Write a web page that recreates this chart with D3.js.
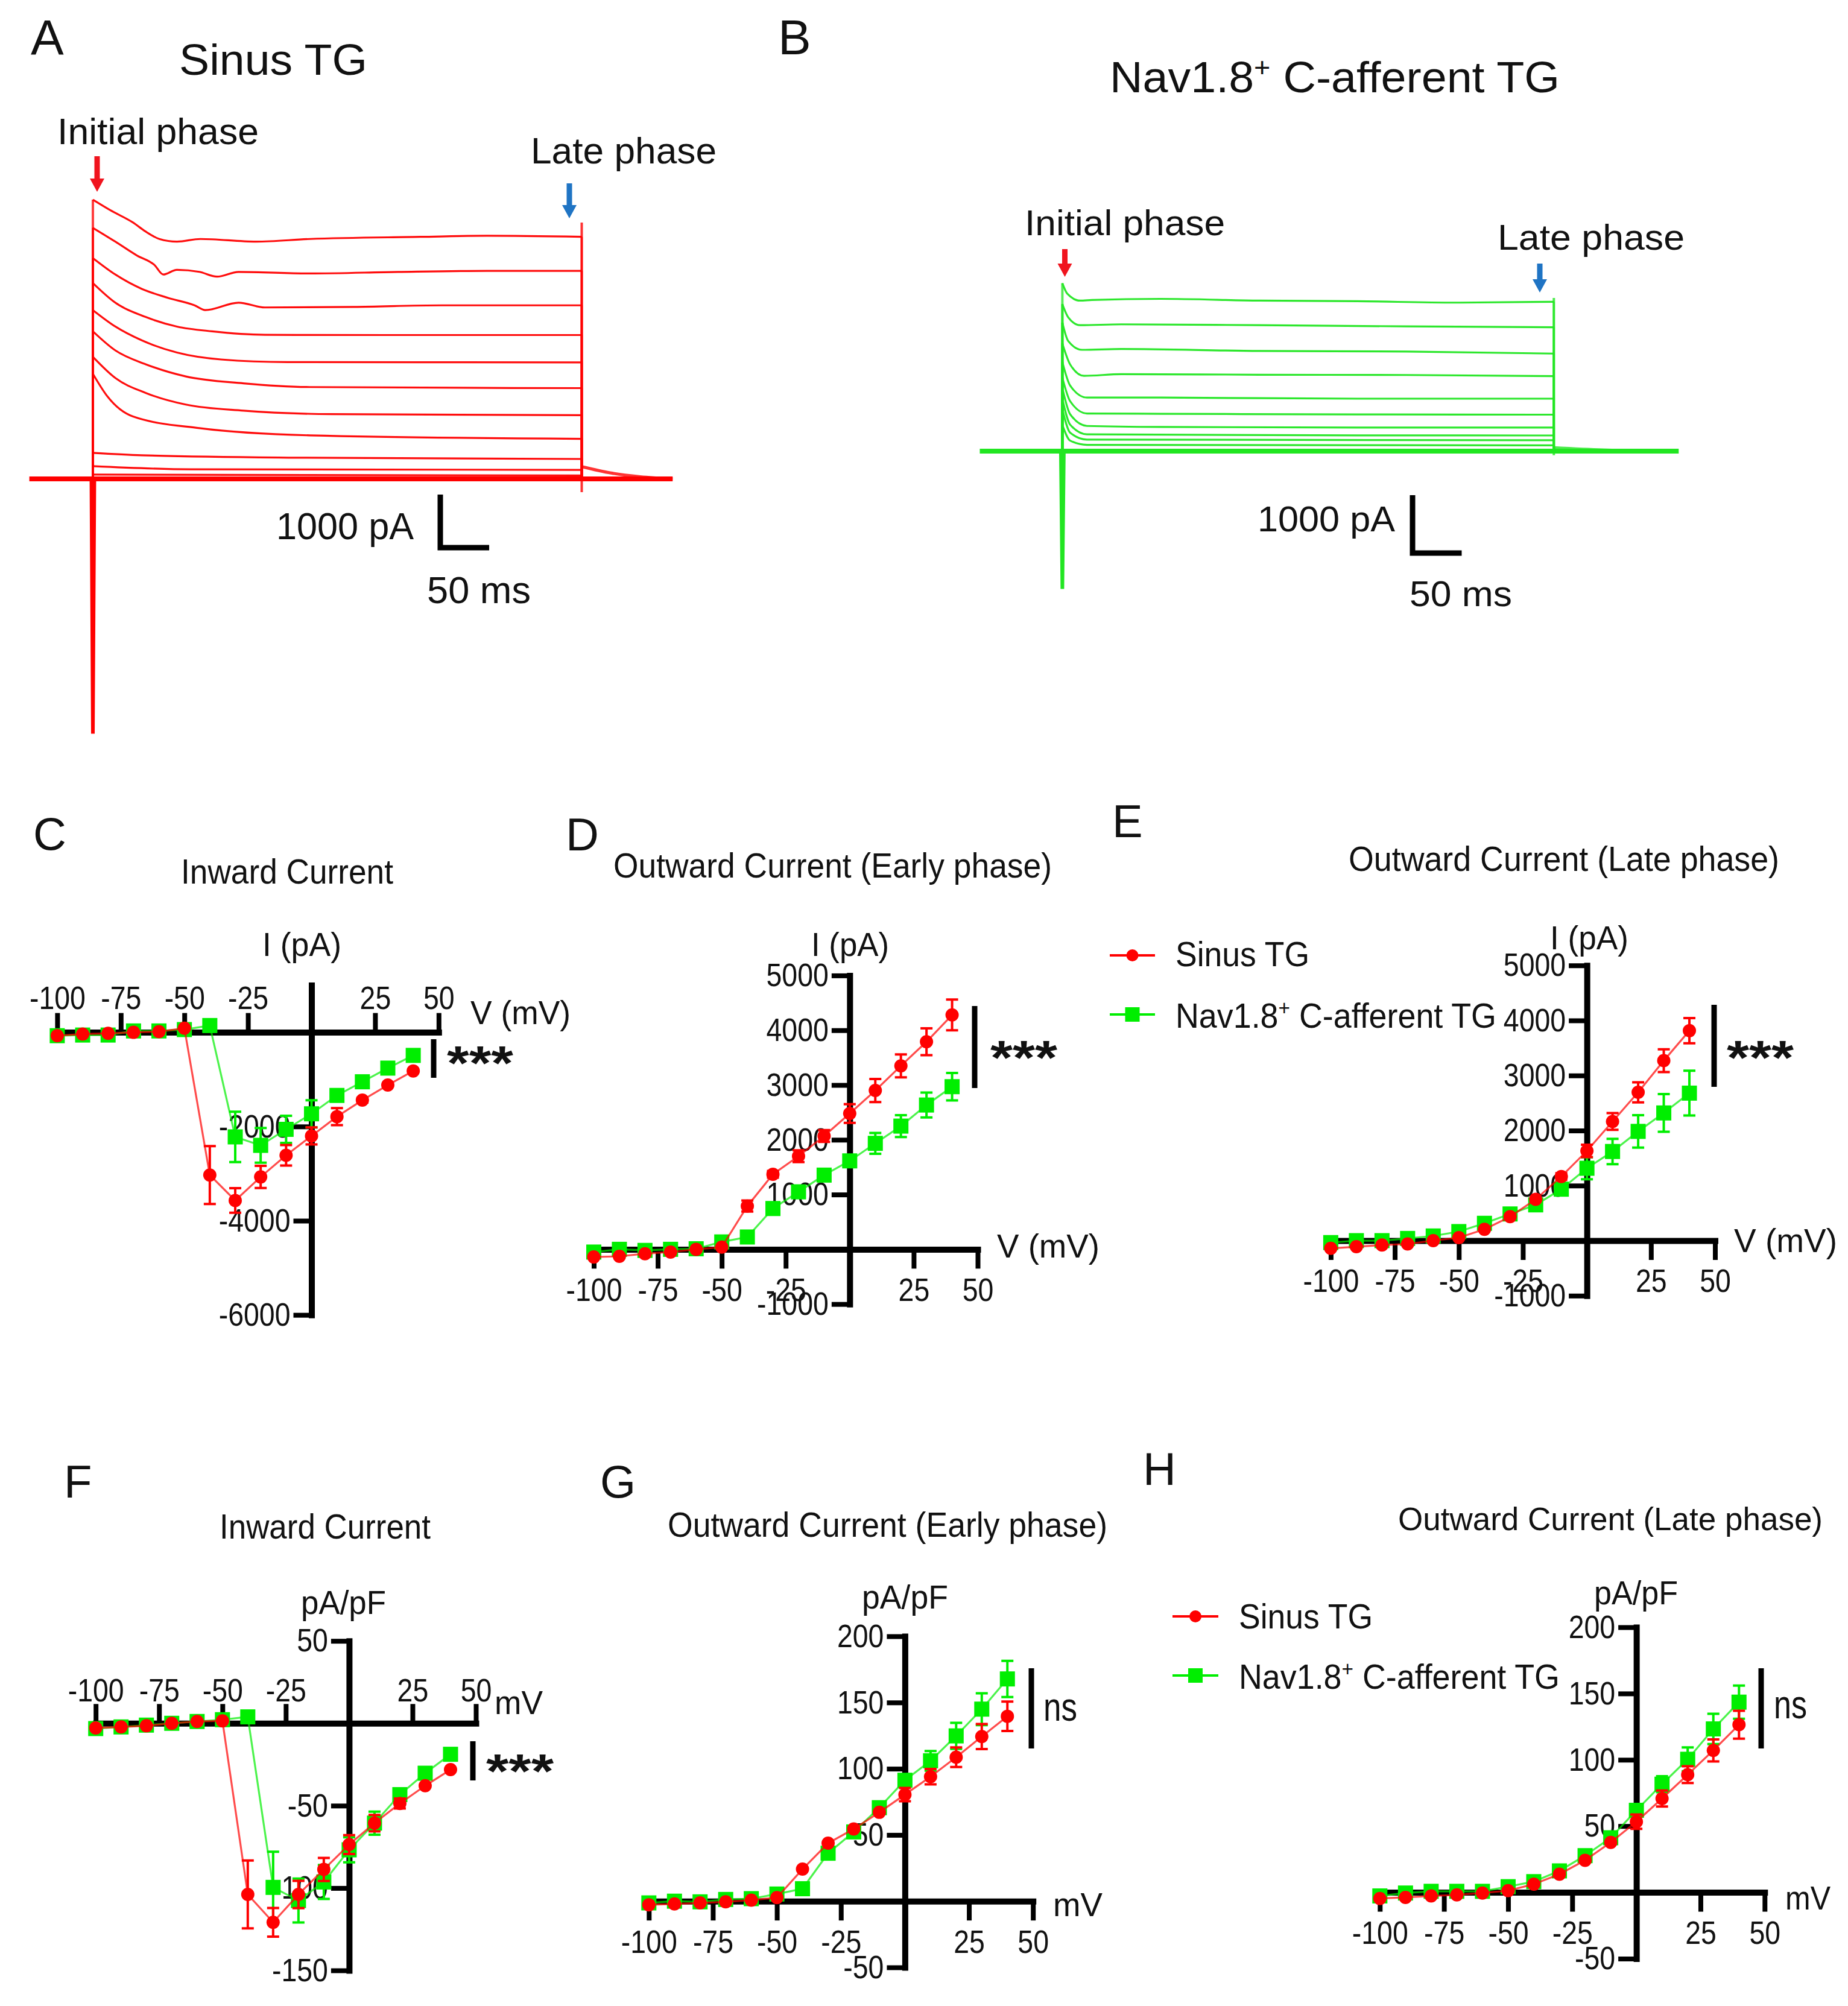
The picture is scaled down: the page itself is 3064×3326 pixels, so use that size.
<!DOCTYPE html>
<html><head><meta charset="utf-8">
<script src="https://cdn.jsdelivr.net/npm/d3@7"></script>
<style>
html,body{margin:0;padding:0;background:#fff;}
svg text{font-family:"Liberation Sans",Arial,sans-serif;fill:#111;}
</style></head><body>
<svg id="fig" width="3064" height="3326" xmlns="http://www.w3.org/2000/svg"></svg>
<script>
// ================= DATA =================
// Panel A/B raw current traces: [time ms, current pA]
const sinusTraces = [
 [[0,5260],[18,5060],[41,4830],[54,4660],[68,4520],[86,4470],[110,4520],[167,4470],[222,4520],[335,4560],[403,4580],[500,4560]],
 [[0,4730],[23,4470],[45,4210],[63,4030],[72,3850],[86,3940],[109,3900],[127,3810],[149,3900],[222,3870],[312,3900],[403,3920],[500,3920]],
 [[0,4160],[23,3850],[50,3580],[77,3410],[104,3270],[115,3180],[149,3320],[176,3230],[267,3240],[357,3270],[500,3270]],
 [[0,3690],[23,3320],[54,3050],[86,2870],[122,2780],[176,2715],[300,2710],[500,2710]],
 [[0,3180],[23,2870],[50,2610],[86,2380],[131,2250],[199,2200],[500,2195]],
 [[0,2780],[23,2420],[54,2160],[95,1930],[154,1800],[222,1730],[500,1710]],
 [[0,2300],[23,1900],[54,1620],[95,1400],[154,1285],[244,1220],[500,1200]],
 [[0,1980],[15,1550],[41,1175],[109,955],[222,820],[500,755]],
 [[0,490],[50,445],[200,400],[500,375]],
 [[0,240],[100,180],[500,170]],
 [[0,80],[500,63]],
 [[0,-20],[500,-20]]
];
const sinusSpike = [[-1.5,0],[0,-4800],[1.5,0]];
const sinusEndTransient = [[500,4830],[500,-250]];
const sinusTail = [[500,230],[530,110],[560,40],[593,0]];

const navTraces = [
 [[0,2900],[5,2720],[18,2600],[30,2610],[100,2630],[200,2600],[300,2590],[400,2565],[500,2580]],
 [[0,2540],[6,2310],[18,2175],[60,2190],[200,2175],[350,2155],[500,2140]],
 [[0,2220],[6,1900],[20,1750],[60,1765],[200,1730],[350,1720],[500,1685]],
 [[0,1860],[8,1495],[22,1300],[60,1330],[200,1320],[350,1315],[500,1295]],
 [[0,1540],[8,1130],[25,925],[100,925],[300,906],[500,906]],
 [[0,1270],[8,860],[25,650],[100,645],[300,635],[500,630]],
 [[0,1090],[8,635],[25,435],[100,417],[300,408],[500,407]],
 [[0,905],[8,455],[25,290],[300,272],[500,271]],
 [[0,725],[8,317],[25,200],[500,189]],
 [[0,453],[8,181],[25,109],[500,101]],
 [[0,0],[500,0]]
];
const navSpike = [[-1.5,0],[0,-2380],[1.5,0]];
const navEndTransient = [[500,2646],[500,-70]];
const navTail = [[500,60],[550,20],[600,0]];

// I-V data
const voltages = [-100,-90,-80,-70,-60,-50,-40,-30,-20,-10,0,10,20,30,40];
const xTickValues = [-100,-75,-50,-25,25,50];

const sinusC    = [-72,-36,-22,0,14,87,-3030,-3570,-3070,-2610,-2200,-1790,-1440,-1120,-820];
const sinusCerr = [0,0,0,0,0,0,614,260,235,217,180,180,50,0,0];
const navC      = [-72,-58,-58,29,29,58,144,-2220,-2400,-2060,-1730,-1340,-1050,-760,-490];
const navCerr   = [0,0,0,0,0,0,0,534,368,289,289,120,0,0,0];

const sinusD    = [-140,-128,-80,-50,0,40,790,1370,1700,2070,2480,2900,3350,3790,4280];
const sinusDerr = [0,0,0,0,0,0,100,60,107,107,170,210,210,245,280];
const navD      = [-50,0,-20,0,10,135,225,745,1050,1355,1615,1935,2250,2635,2970];
const navDerr   = [0,0,0,0,0,0,0,0,60,60,60,190,200,226,250];

const sinusE    = [-140,-110,-80,-60,0,55,205,435,750,1165,1630,2165,2695,3270,3815];
const sinusEerr = [0,0,0,0,0,0,0,0,0,60,112,152,182,206,228];
const navE      = [-35,0,0,40,85,165,315,485,650,935,1315,1620,1985,2320,2680];
const navEerr   = [0,0,0,0,0,0,0,0,0,0,200,230,294,343,407];

const sinusF    = [-2.8,-2.2,-1.5,0,1.1,1.5,-103.9,-120.8,-103.9,-88.7,-73.6,-60.6,-48.7,-37.9,-28.1];
const sinusFerr = [0,0,0,0,0,0,20.6,8.7,8.3,7,5.7,5,3,0,0];
const navF      = [-3.2,-2.2,-1.1,0,1.1,2.2,3.9,-99.6,-107.6,-96.3,-76.8,-60.6,-43.3,-30.3,-18.8];
const navFerr   = [0,0,0,0,0,0,0,21.6,13.3,10.3,7.6,7,2,0,0];

const sinusG    = [-2.7,-2.1,-1.3,-0.5,0.8,2.7,24.2,43.8,54.5,67.1,80.5,94,108.7,124.3,139.6];
const sinusGerr = [0,0,0,0,0,0,0,0,0,0,5,5.8,7.4,9.4,11.1];
const navG      = [-1.3,0,-0.5,1.3,1.9,5.4,9.4,36.2,52.3,70.6,91.3,106,124.8,145,167.8];
const navGerr   = [0,0,0,0,0,0,0,0,0,0,0,7.4,9.8,12,13.7];

const sinusH    = [-4.6,-3.8,-2.7,-1.9,-0.5,1.3,6.2,13.7,24.2,37.7,53.3,70.8,88.8,107.1,126.5];
const sinusHerr = [0,0,0,0,0,0,0,0,0,0,5.4,6,6.3,8.3,10.5];
const navH      = [-2.7,-0.5,0.8,0.8,0.8,4.3,8.1,16.2,27.7,41.2,61.9,81.6,100.4,123.3,143.5];
const navHerr   = [0,0,0,0,0,0,0,0,0,0,0,6,9,11.4,12.5];

const seriesNames = ["Sinus TG", "Nav1.8+ C-afferent TG"];

// ================= DRAWING =================
const RED = "#ff0000", GREEN = "#00ee00", TRACE_GREEN = "#22e622", BLUE = "#1f74c4";
const svg = d3.select("#fig");
svg.append("rect").attr("width",3064).attr("height",3326).attr("fill","#fff");

const navParts = [{t:"Nav1.8"},{t:"+",sup:true},{t:" C-afferent TG"}];

function addText(sel, parts, x, y, size, width, anchor, weight) {
  const t = sel.append("text").attr("x",x).attr("y",y).attr("font-size",size)
    .attr("text-anchor",anchor||"start");
  if (weight) t.attr("font-weight",weight);
  if (typeof parts === "string") t.text(parts);
  else {
    let prevSup = false;
    parts.forEach(p => {
      const ts = t.append("tspan").text(p.t);
      if (p.sup) { ts.attr("font-size", size*0.62).attr("dy", -size*0.36); prevSup = true; }
      else if (prevSup) { ts.attr("dy", size*0.36); prevSup = false; }
    });
  }
  if (width) t.attr("textLength",width).attr("lengthAdjust","spacingAndGlyphs");
  return t;
}

function arrow(x, yTop, yTip, color) {
  const sw = 4.5, hw = 12, hl = 22;
  svg.append("path").attr("fill",color)
    .attr("d",`M${x-sw},${yTop}H${x+sw}V${yTip-hl}H${x+hw}L${x},${yTip}L${x-hw},${yTip-hl}H${x-sw}Z`);
}

function tracePanel(cfg) {
  const g = svg.append("g");
  const x = d3.scaleLinear().domain([0,500]).range([cfg.xOn, cfg.xOff]);
  const y = d3.scaleLinear().domain([0,1000]).range([cfg.yBase, cfg.yBase - cfg.px1000]);
  const body = d3.line().x(d=>x(d[0])).y(d=>y(d[1])).curve(d3.curveMonotoneX);
  const lin = d3.line().x(d=>x(d[0])).y(d=>y(d[1]));
  const st = (p,w,op) => p.attr("fill","none").attr("stroke",cfg.color).attr("stroke-width",w).attr("stroke-opacity",op||1);
  st(g.append("path").attr("d", lin([[cfg.tStart,0],[cfg.tEnd,0]])), 8);
  st(g.append("path").attr("d", body(cfg.tail)), 5, 0.8);
  cfg.traces.forEach(tr => {
    st(g.append("path").attr("d", body(tr)), 3.2, 0.95);
    st(g.append("path").attr("d", lin([[0,0],tr[0]])), 4, 0.75);
    st(g.append("path").attr("d", lin([tr[tr.length-1],[500,0]])), 3.5, 0.7);
  });
  st(g.append("path").attr("d", lin(cfg.spike)), 6);
  st(g.append("path").attr("d", lin(cfg.endTransient)), 4, 0.8);
  // scale bar
  const vLen = y(0)-y(1000), hLen = x(50)-x(0);
  g.append("path").attr("d",`M${cfg.bar[0]},${cfg.bar[1]-vLen}V${cfg.bar[1]}H${cfg.bar[0]+hLen}`)
    .attr("fill","none").attr("stroke","#000").attr("stroke-width",9).attr("stroke-linejoin","miter");
}

// ---- Panel A ----
addText(svg,"A",51,90,82);
addText(svg,"Sinus TG",297,124,72,312);
addText(svg,"Initial phase",95,239,62,334);
addText(svg,"Late phase",880,271,62,308);
addText(svg,"1000 pA",458,894,63,228);
addText(svg,"50 ms",708,1000,63,172);
arrow(161,259,318,"#f0141e");
arrow(944,304,362,BLUE);
tracePanel({xOn:154, xOff:964.5, yBase:794, px1000:88, tStart:-65, tEnd:593, color:RED,
  traces:sinusTraces, spike:sinusSpike, endTransient:sinusEndTransient, tail:sinusTail, bar:[730,908]});

// ---- Panel B ----
addText(svg,"B",1290,90,82);
addText(svg,navParts,1840,153,72,746);
addText(svg,"Initial phase",1699,390,60,332);
addText(svg,"Late phase",2483,414,60,310);
addText(svg,"1000 pA",2085,881,60,228);
addText(svg,"50 ms",2337,1005,60,170);
arrow(1765.5,413,459,"#f0141e");
arrow(2553,437,485,BLUE);
tracePanel({xOn:1761.4, xOff:2576.3, yBase:748, px1000:96, tStart:-84, tEnd:627, color:TRACE_GREEN,
  traces:navTraces, spike:navSpike, endTransient:navEndTransient, tail:navTail, bar:[2342,917]});

// ---- I-V panels ----
function ivPanel(c) {
  const g = svg.append("g");
  const x = d3.scaleLinear().domain([-100,50]).range(c.xr);
  const y = d3.scaleLinear().domain(c.yd).range(c.yr);
  const tick = 32;
  const xGen = (c.xTop ? d3.axisTop(x) : d3.axisBottom(x)).tickValues(xTickValues)
     .tickFormat(d=>String(d)).tickSize(tick).tickSizeOuter(0).tickPadding(c.xTop ? c.xPad : 15);
  const yGen = d3.axisLeft(y).tickValues(c.yTicks).tickFormat(d=>String(d))
     .tickSize(30).tickSizeOuter(0).tickPadding(5);
  const xa = g.append("g").attr("transform",`translate(0,${y(0)})`).call(xGen);
  const ya = g.append("g").attr("transform",`translate(${x(0)},0)`).call(yGen);
  [xa,ya].forEach(a => {
    a.attr("font-size",54).attr("font-family",'"Liberation Sans",Arial,sans-serif');
    a.select(".domain").attr("stroke","#000").attr("stroke-width",10).attr("stroke-linecap","square");
    a.selectAll(".tick line").attr("stroke","#000").attr("stroke-width",8);
    a.selectAll(".tick text").attr("fill","#111").each(function(){
      const w = this.getComputedTextLength();
      d3.select(this).attr("textLength", w*0.86).attr("lengthAdjust","spacingAndGlyphs");
    });
  });
  // series: green first, red on top
  const series = [
    {vals:c.nav, err:c.navErr, color:GREEN, shape:"square"},
    {vals:c.sin, err:c.sinErr, color:RED, shape:"circle"}
  ];
  series.forEach(s => {
    const pts = voltages.map((v,i)=>({v, m:s.vals[i], e:s.err[i]}));
    g.append("path").attr("d", d3.line().x(d=>x(d.v)).y(d=>y(d.m))(pts))
      .attr("fill","none").attr("stroke",s.color).attr("stroke-width",3.2).attr("stroke-opacity",0.7);
    pts.filter(d=>d.e>0).forEach(d => {
      const px = x(d.v), y1 = y(d.m+d.e), y2 = y(d.m-d.e);
      g.append("path").attr("d",`M${px},${y1}V${y2}M${px-10},${y1}H${px+10}M${px-10},${y2}H${px+10}`)
        .attr("fill","none").attr("stroke",s.color).attr("stroke-width",4);
    });
    if (s.shape==="circle") {
      g.selectAll(null).data(pts).join("circle").attr("cx",d=>x(d.v)).attr("cy",d=>y(d.m))
        .attr("r",11).attr("fill",s.color);
    } else {
      g.selectAll(null).data(pts).join("rect").attr("x",d=>x(d.v)-12.5).attr("y",d=>y(d.m)-12.5)
        .attr("width",25).attr("height",25).attr("fill",s.color);
    }
  });
  // labels
  addText(svg,c.letter[0],c.letter[1],c.letter[2],76);
  addText(svg,c.title[0],c.title[1],c.title[2],c.title[4]||57,c.title[3]);
  addText(svg,c.yLab[0],c.yLab[1],c.yLab[2],56,c.yLab[3]);
  addText(svg,c.xLab[0],c.xLab[1],c.xLab[2],56,c.xLab[3]);
  // significance
  svg.append("line").attr("x1",c.sig.x).attr("x2",c.sig.x).attr("y1",c.sig.y1).attr("y2",c.sig.y2)
    .attr("stroke","#000").attr("stroke-width",9);
  if (c.sig.text==="***") addText(svg,"***",c.sig.tx,c.sig.ty+46,80,c.sig.tw,"start","bold");
  else addText(svg,c.sig.text,c.sig.tx,c.sig.ty,66,c.sig.tw);
  // legend
  if (c.legend) {
    const L = c.legend;
    [[RED,"circle",L.y1,"Sinus TG",L.ty1,222],[GREEN,"square",L.y2,navParts,L.ty2,532]].forEach(r => {
      svg.append("line").attr("x1",L.x1).attr("x2",L.x2).attr("y1",r[2]).attr("y2",r[2])
        .attr("stroke",r[0]).attr("stroke-width",4);
      const cx = (L.x1+L.x2)/2;
      if (r[1]==="circle") svg.append("circle").attr("cx",cx).attr("cy",r[2]).attr("r",10).attr("fill",r[0]);
      else svg.append("rect").attr("x",cx-12).attr("y",r[2]-12).attr("width",24).attr("height",24).attr("fill",r[0]);
      addText(svg,r[3],L.tx,r[4],58,r[5]);
    });
  }
}

ivPanel({xr:[94.9,727.3], yd:[-6000,1000], yr:[2180.2,1633.5], yTicks:[-6000,-4000,-2000], xTop:true, xPad:7,
  sin:sinusC, sinErr:sinusCerr, nav:navC, navErr:navCerr,
  letter:["C",55,1409], title:["Inward Current",300,1465,352], yLab:["I (pA)",435,1585,131], xLab:["V (mV)",780,1698,166],
  sig:{x:719,y1:1723,y2:1787,text:"***",tx:741,ty:1744,tw:110}});

ivPanel({xr:[984.5,1621], yd:[-1000,5000], yr:[2162.2,1617.4], yTicks:[-1000,1000,2000,3000,4000,5000], xTop:false,
  sin:sinusD, sinErr:sinusDerr, nav:navD, navErr:navDerr,
  letter:["D",938,1410], title:["Outward Current (Early phase)",1017,1455,727], yLab:["I (pA)",1345,1585,129], xLab:["V (mV)",1653,2085,170],
  sig:{x:1616,y1:1668,y2:1804,text:"***",tx:1642,ty:1735,tw:111}});

ivPanel({xr:[2206.4,2843.5], yd:[-1000,5000], yr:[2148.3,1600.7], yTicks:[-1000,1000,2000,3000,4000,5000], xTop:false,
  sin:sinusE, sinErr:sinusEerr, nav:navE, navErr:navEerr,
  letter:["E",1844,1388], title:["Outward Current (Late phase)",2236,1444,714], yLab:["I (pA)",2570,1574,130], xLab:["V (mV)",2875,2076,171],
  sig:{x:2842,y1:1666,y2:1802,text:"***",tx:2863,ty:1735,tw:111},
  legend:{x1:1840,x2:1915,y1:1584,y2:1682,tx:1949,ty1:1602,ty2:1704}});

ivPanel({xr:[158.7,789], yd:[-150,50], yr:[3267,2720.7], yTicks:[-150,-100,-50,50], xTop:true, xPad:4,
  sin:sinusF, sinErr:sinusFerr, nav:navF, navErr:navFerr,
  letter:["F",106,2483], title:["Inward Current",364,2551,350], yLab:["pA/pF",499,2676,141], xLab:["mV",820,2842,80],
  sig:{x:784,y1:2887,y2:2952,text:"***",tx:806,ty:2918,tw:112}});

ivPanel({xr:[1075.8,1712.7], yd:[-50,200], yr:[3262,2713], yTicks:[-50,50,100,150,200], xTop:false,
  sin:sinusG, sinErr:sinusGerr, nav:navG, navErr:navGerr,
  letter:["G",995,2483], title:["Outward Current (Early phase)",1107,2548,729], yLab:["pA/pF",1429,2667,143], xLab:["mV",1746,3177,82],
  sig:{x:1710,y1:2766,y2:2899,text:"ns",tx:1730,ty:2853,tw:56}});

ivPanel({xr:[2287.8,2925.8], yd:[-50,200], yr:[3247.5,2698], yTicks:[-50,50,100,150,200], xTop:false,
  sin:sinusH, sinErr:sinusHerr, nav:navH, navErr:navHerr,
  letter:["H",1895,2462], title:["Outward Current (Late phase)",2318,2537,704,53], yLab:["pA/pF",2643,2660,139], xLab:["mV",2960,3166,75],
  sig:{x:2920,y1:2766,y2:2899,text:"ns",tx:2941,ty:2849,tw:55},
  legend:{x1:1944,x2:2020,y1:2680,y2:2778,tx:2054,ty1:2700,ty2:2800}});
</script>
</body></html>
